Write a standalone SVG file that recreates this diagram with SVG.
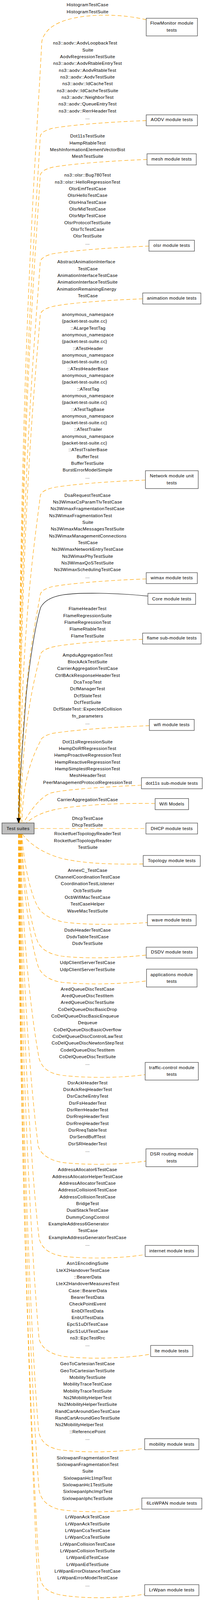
<svg xmlns="http://www.w3.org/2000/svg" width="555" height="4256" viewBox="0 0 555 4256">
<style>
text{font-family:"Liberation Sans",Arial,sans-serif;font-size:11.5px;letter-spacing:0.4px;fill:#000;text-anchor:middle}
.n rect{fill:#fff;stroke:#404040;stroke-width:1.2}
.root rect{fill:#bfbfbf;stroke:#404040;stroke-width:1.2}
.e{fill:none;stroke:#ffa500;stroke-width:1.2;stroke-dasharray:10,6}
.s{fill:none;stroke:#000;stroke-width:1.1}
</style>
<defs>
<marker id="arr" markerUnits="userSpaceOnUse" markerWidth="14" markerHeight="11" refX="13" refY="5" orient="auto"><path d="M0,0 L13,5 L0,10 z" fill="#000" stroke="#000" stroke-width="1"/></marker>
</defs>
<rect width="555" height="4256" fill="#fff"/>
<g id="connectors">
<g id="edge-flowmonitor">
<path class="e" d="M374,50.7 C300,32 170,32 125,75 C112,88 107,100 106.7,110 C91.7,410 49.7,909 46.7,2107"/>
<text x="224" y="16.3">HistogramTestCase</text>
<text x="224" y="33.6">HistogramTestSuite</text>
</g>
<g id="edge-aodv">
<path class="e" d="M374,308.7 C289,311.7 179,319.7 133,328.7 C112,334.7 105,340.7 103,348.7 C88,612.4 50.3,1052 47.3,2107"/>
<text x="217.8" y="114.3">ns3::aodv::AodvLoopbackTest</text>
<text x="224.7" y="131.6">Suite</text>
<text x="224" y="148.9">AodvRegressionTestSuite</text>
<text x="224" y="166.3">ns3::aodv::AodvRtableEntryTest</text>
<text x="224" y="183.6">ns3::aodv::AodvRtableTest</text>
<text x="224" y="200.9">ns3::aodv::AodvTestSuite</text>
<text x="224" y="218.2">ns3::aodv::IdCacheTest</text>
<text x="224" y="235.5">ns3::aodv::IdCacheTestSuite</text>
<text x="224" y="252.9">ns3::aodv::NeighborTest</text>
<text x="224" y="270.2">ns3::aodv::QueueEntryTest</text>
<text x="224" y="287.5">ns3::aodv::RerrHeaderTest</text>
<text x="224" y="304.8">...</text>
</g>
<g id="edge-mesh">
<path class="e" d="M376,408.3 C291,411.3 181,419.3 133,428.3 C112,434.3 105,440.3 103,448.3 C88,697.1 51,1111.8 48,2107"/>
<text x="224" y="352.3">Dot11sTestSuite</text>
<text x="224" y="369.6">HwmpRtableTest</text>
<text x="224" y="386.9">MeshInformationElementVectorBist</text>
<text x="224" y="404.3">MeshTestSuite</text>
</g>
<g id="edge-olsr">
<path class="e" d="M381,630 C296,633 186,641 133,650 C112,656 105,662 103,670 C88,885.6 51.7,1244.8 48.7,2107"/>
<text x="224" y="452.3">ns3::olsr::Bug780Test</text>
<text x="224" y="469.6">ns3::olsr::HelloRegressionTest</text>
<text x="224" y="486.9">OlsrEmfTestCase</text>
<text x="224" y="504.3">OlsrHelloTestCase</text>
<text x="224" y="521.6">OlsrHnaTestCase</text>
<text x="224" y="538.9">OlsrMidTestCase</text>
<text x="224" y="556.2">OlsrMprTestCase</text>
<text x="224" y="573.5">OlsrProtocolTestSuite</text>
<text x="224" y="590.9">OlsrTcTestCase</text>
<text x="224" y="608.2">OlsrTestSuite</text>
<text x="224" y="625.5">...</text>
</g>
<g id="edge-animation">
<path class="e" d="M365,765 C280,768 170,776 133,785 C112,791 105,797 103,805 C88,1000.3 52.4,1325.8 49.4,2107"/>
<text x="220.8" y="674.3">AbstractAnimationInterface</text>
<text x="224.7" y="691.6">TestCase</text>
<text x="224" y="708.9">AnimationInterfaceTestCase</text>
<text x="224" y="726.3">AnimationInterfaceTestSuite</text>
<text x="221.7" y="743.6">AnimationRemainingEnergy</text>
<text x="224.7" y="760.9">TestCase</text>
</g>
<g id="edge-network">
<path class="e" d="M372,1229 C287,1232 177,1240 133,1249 C112,1255 105,1261 103,1269 C88,1394.7 53,1604.2 50,2107"/>
<text x="224.8" y="809">anonymous_namespace</text>
<text x="216.3" y="826.3">{packet-test-suite.cc}</text>
<text x="225.3" y="843.6">::ALargeTestTag</text>
<text x="224.8" y="861">anonymous_namespace</text>
<text x="216.3" y="878.3">{packet-test-suite.cc}</text>
<text x="225.2" y="895.6">::ATestHeader</text>
<text x="224.8" y="912.9">anonymous_namespace</text>
<text x="216.3" y="930.2">{packet-test-suite.cc}</text>
<text x="225" y="947.6">::ATestHeaderBase</text>
<text x="224.8" y="964.9">anonymous_namespace</text>
<text x="216.3" y="982.2">{packet-test-suite.cc}</text>
<text x="225.5" y="999.5">::ATestTag</text>
<text x="224.8" y="1016.8">anonymous_namespace</text>
<text x="216.3" y="1034.2">{packet-test-suite.cc}</text>
<text x="224.7" y="1051.5">::ATestTagBase</text>
<text x="224.8" y="1068.8">anonymous_namespace</text>
<text x="216.3" y="1086.1">{packet-test-suite.cc}</text>
<text x="225.3" y="1103.4">::ATestTrailer</text>
<text x="224.8" y="1120.8">anonymous_namespace</text>
<text x="216.3" y="1138.1">{packet-test-suite.cc}</text>
<text x="225.2" y="1155.4">::ATestTrailerBase</text>
<text x="224" y="1172.7">BufferTest</text>
<text x="224" y="1190">BufferTestSuite</text>
<text x="224" y="1207.4">BurstErrorModelSimple</text>
<text x="224" y="1224.7">...</text>
</g>
<g id="edge-wimax">
<path class="e" d="M374,1482 C289,1485 179,1493 133,1502 C112,1508 105,1514 103,1522 C88,1609.8 54,1756 51,2107"/>
<text x="224" y="1271.7">DsaRequestTestCase</text>
<text x="224" y="1289">Ns3WimaxCsParamTlvTestCase</text>
<text x="224" y="1306.3">Ns3WimaxFragmentationTestCase</text>
<text x="206.2" y="1323.7">Ns3WimaxFragmentationTest</text>
<text x="224.7" y="1341">Suite</text>
<text x="224" y="1358.3">Ns3WimaxMacMessagesTestSuite</text>
<text x="224.5" y="1375.6">Ns3WimaxManagementConnections</text>
<text x="224.7" y="1392.9">TestCase</text>
<text x="224" y="1410.3">Ns3WimaxNetworkEntryTestCase</text>
<text x="224" y="1427.6">Ns3WimaxPhyTestSuite</text>
<text x="224" y="1444.9">Ns3WimaxQoSTestSuite</text>
<text x="224" y="1462.2">Ns3WimaxSchedulingTestCase</text>
<text x="224" y="1479.5">...</text>
</g>
<g id="edge-core">
<path class="s" marker-end="url(#arr)" d="M378.3,1526 C330,1521 220,1514 160,1523 C130,1528 112,1540 104,1555 C90,1600 75,1700 67,1780 C60,1880 50,1990 47.3,2106.7"/>
</g>
<g id="edge-flame">
<path class="e" d="M364.7,1636.7 C279.7,1639.7 169.7,1647.7 133,1656.7 C112,1662.7 105,1668.7 103,1676.7 C88,1741.2 56,1848.8 53,2107"/>
<text x="224" y="1562.3">FlameHeaderTest</text>
<text x="224" y="1579.6">FlameRegressionSuite</text>
<text x="224" y="1596.9">FlameRegressionTest</text>
<text x="224" y="1614.3">FlameRtableTest</text>
<text x="224" y="1631.6">FlameTestSuite</text>
</g>
<g id="edge-wifi">
<path class="e" d="M382,1857.7 C297,1860.7 187,1868.7 133,1877.7 C112,1883.7 105,1889.7 103,1897.7 C88,1929.1 59,1981.4 56,2107"/>
<text x="224" y="1680.7">AmpduAggregationTest</text>
<text x="224" y="1698">BlockAckTestSuite</text>
<text x="224" y="1715.3">CarrierAggregationTestCase</text>
<text x="224" y="1732.7">CtrlBAckResponseHeaderTest</text>
<text x="224" y="1750">DcaTxopTest</text>
<text x="224" y="1767.3">DcfManagerTest</text>
<text x="224" y="1784.6">DcfStateTest</text>
<text x="224" y="1801.9">DcfTestSuite</text>
<text x="224" y="1819.3">DcfStateTest::ExpectedCollision</text>
<text x="224" y="1836.6">fn_parameters</text>
<text x="224" y="1853.9">...</text>
</g>
<g id="edge-dot11s">
<path class="e" d="M361.7,2010 C280,2014 170,2020 130,2030 C105,2040 80,2070 60,2107"/>
<text x="224" y="1902.7">Dot11sRegressionSuite</text>
<text x="224" y="1920">HwmpDoRfRegressionTest</text>
<text x="224" y="1937.3">HwmpProactiveRegressionTest</text>
<text x="224" y="1954.7">HwmpReactiveRegressionTest</text>
<text x="224" y="1972">HwmpSimplestRegressionTest</text>
<text x="224" y="1989.3">MeshHeaderTest</text>
<text x="224" y="2006.6">PeerManagementProtocolRegressionTest</text>
</g>
<g id="edge-wifimodels">
<path class="e" d="M396.7,2057 C300,2055 180,2062 130,2075 C100,2083 80,2095 67,2107"/>
<text x="224" y="2050.7">CarrierAggregationTestCase</text>
</g>
<g id="edge-dhcp">
<path class="e" d="M87.3,2121 L373.3,2121"/>
<text x="224" y="2098.7">DhcpTestCase</text>
<text x="224" y="2116">DhcpTestSuite</text>
</g>
<g id="edge-topology">
<path class="e" d="M57,2135 C75,2160 110,2185 160,2198 C220,2212 300,2213 366.3,2211.7"/>
<text x="224" y="2138.3">RocketfuelTopologyReaderTest</text>
<text x="211.8" y="2155.6">RocketfuelTopologyReader</text>
<text x="224.7" y="2172.9">TestSuite</text>
</g>
<g id="edge-wave">
<path class="e" d="M56,2135 C60,2200 75,2280 95,2318 C105,2338 125,2352 160,2360 C230,2370 320,2366 377,2361.7"/>
<text x="224" y="2231.7">AnnexC_TestCase</text>
<text x="224" y="2249">ChannelCoordinationTestCase</text>
<text x="224" y="2266.3">CoordinationTestListener</text>
<text x="224" y="2283.7">OcbTestSuite</text>
<text x="224" y="2301">OcbWifiMacTestCase</text>
<text x="224" y="2318.3">TestCaseHelper</text>
<text x="224" y="2335.6">WaveMacTestSuite</text>
</g>
<g id="edge-dsdv">
<path class="e" d="M55,2135 C58,2250 80,2370 96,2410 C105,2430 125,2443 160,2448 C220,2455 310,2452 374,2445"/>
<text x="224" y="2384.7">DsdvHeaderTestCase</text>
<text x="224" y="2402">DsdvTableTestCase</text>
<text x="224" y="2419.3">DsdvTestSuite</text>
</g>
<g id="edge-applications">
<path class="e" d="M54,2135 C57,2280 80,2420 98,2475 C106,2495 125,2510 160,2515 C220,2521 310,2520 374.7,2511"/>
<text x="224" y="2468.3">UdpClientServerTestCase</text>
<text x="224" y="2485.6">UdpClientServerTestSuite</text>
</g>
<g id="edge-trafficcontrol">
<path class="e" d="M53,2135 C56,2400 80,2600 100,2710 C108,2735 125,2748 160,2753 C220,2760 310,2760 371.3,2751"/>
<text x="224" y="2535.7">AredQueueDiscTestCase</text>
<text x="224" y="2553">AredQueueDiscTestItem</text>
<text x="224" y="2570.3">AredQueueDiscTestSuite</text>
<text x="224" y="2587.7">CoDelQueueDiscBasicDrop</text>
<text x="217.8" y="2605">CoDelQueueDiscBasicEnqueue</text>
<text x="224.3" y="2622.3">Dequeue</text>
<text x="224" y="2639.6">CoDelQueueDiscBasicOverflow</text>
<text x="224" y="2656.9">CoDelQueueDiscControlLawTest</text>
<text x="224" y="2674.3">CoDelQueueDiscNewtonStepTest</text>
<text x="224" y="2691.6">CodelQueueDiscTestItem</text>
<text x="224" y="2708.9">CoDelQueueDiscTestSuite</text>
<text x="224" y="2726.2">...</text>
</g>
<g id="edge-dsr">
<path class="e" d="M52,2135 C55,2500 80,2800 98,2935 C105,2955 125,2970 160,2976 C220,2983 310,2982 373.3,2972.3"/>
<text x="224" y="2775.7">DsrAckHeaderTest</text>
<text x="224" y="2793">DsrAckReqHeaderTest</text>
<text x="224" y="2810.3">DsrCacheEntryTest</text>
<text x="224" y="2827.7">DsrFsHeaderTest</text>
<text x="224" y="2845">DsrRerrHeaderTest</text>
<text x="224" y="2862.3">DsrRrepHeaderTest</text>
<text x="224" y="2879.6">DsrRreqHeaderTest</text>
<text x="224" y="2896.9">DsrRreqTableTest</text>
<text x="224" y="2914.3">DsrSendBuffTest</text>
<text x="224" y="2931.6">DsrSRHeaderTest</text>
<text x="224" y="2948.9">...</text>
</g>
<g id="edge-internet">
<path class="e" d="M51,2135 C54,2600 80,3000 100,3170 C106,3195 125,3210 160,3216 C220,3223 310,3222 371.3,3211.7"/>
<text x="224" y="2998.3">AddressAllocator6TestCase</text>
<text x="224" y="3015.6">AddressAllocatorHelperTestCase</text>
<text x="224" y="3032.9">AddressAllocatorTestCase</text>
<text x="224" y="3050.3">AddressCollision6TestCase</text>
<text x="224" y="3067.6">AddressCollisionTestCase</text>
<text x="224" y="3084.9">BridgeTest</text>
<text x="224" y="3102.2">DualStackTestCase</text>
<text x="224" y="3119.5">DummyCongControl</text>
<text x="201.3" y="3136.9">ExampleAddress6Generator</text>
<text x="224.7" y="3154.2">TestCase</text>
<text x="224" y="3171.5">ExampleAddressGeneratorTestCase</text>
<text x="224" y="3188.8">...</text>
</g>
<g id="edge-lte">
<path class="e" d="M50,2135 C53,2700 80,3200 100,3428 C106,3450 125,3465 160,3472 C220,3480 320,3478 385.3,3466.7"/>
<text x="224" y="3238.3">Asn1EncodingSuite</text>
<text x="212.5" y="3255.6">LteX2HandoverTestCase</text>
<text x="224.3" y="3272.9">::BearerData</text>
<text x="224.3" y="3290.3">LteX2HandoverMeasuresTest</text>
<text x="224.7" y="3307.6">Case::BearerData</text>
<text x="224" y="3324.9">BearerTestData</text>
<text x="224" y="3342.2">CheckPointEvent</text>
<text x="224" y="3359.5">EnbDlTestData</text>
<text x="224" y="3376.9">EnbUlTestData</text>
<text x="224" y="3394.2">EpcS1uDlTestCase</text>
<text x="224" y="3411.5">EpcS1uUlTestCase</text>
<text x="224" y="3428.8">ns3::EpcTestRrc</text>
<text x="224" y="3446.1">...</text>
</g>
<g id="edge-mobility">
<path class="e" d="M49,2135 C52,2800 80,3450 99,3665 C104,3690 120,3705 150,3711 C210,3720 310,3718 370,3707.3"/>
<text x="224" y="3495.3">GeoToCartesianTestCase</text>
<text x="224" y="3512.6">GeoToCartesianTestSuite</text>
<text x="224" y="3529.9">MobilityTestSuite</text>
<text x="224" y="3547.3">MobilityTraceTestCase</text>
<text x="224" y="3564.6">MobilityTraceTestSuite</text>
<text x="224" y="3581.9">Ns2MobilityHelperTest</text>
<text x="224" y="3599.2">Ns2MobilityHelperTestSuite</text>
<text x="224" y="3616.5">RandCartAroundGeoTestCase</text>
<text x="224" y="3633.9">RandCartAroundGeoTestSuite</text>
<text x="203" y="3651.2">Ns2MobilityHelperTest</text>
<text x="224" y="3668.5">::ReferencePoint</text>
<text x="224" y="3685.8">...</text>
</g>
<g id="edge-6lowpan">
<path class="e" d="M48,2135 C51,2900 82,3600 100,3815 C105,3840 120,3855 150,3864 C210,3873 300,3872 362.7,3861.7"/>
<text x="224" y="3735.7">SixlowpanFragmentationTest</text>
<text x="224" y="3753">SixlowpanFragmentationTest</text>
<text x="224.7" y="3770.3">Suite</text>
<text x="224" y="3787.7">SixlowpanHc1ImplTest</text>
<text x="224" y="3805">SixlowpanHc1TestSuite</text>
<text x="224" y="3822.3">SixlowpanIphcImplTest</text>
<text x="224" y="3839.6">SixlowpanIphcTestSuite</text>
</g>
<g id="edge-lrwpan">
<path class="e" d="M47.5,2135 C50,3000 85,3800 101,4030 C104,4060 118,4074 150,4082 C210,4094 310,4092 370,4081"/>
<text x="224" y="3887.3">LrWpanAckTestCase</text>
<text x="224" y="3904.6">LrWpanAckTestSuite</text>
<text x="224" y="3921.9">LrWpanCcaTestCase</text>
<text x="224" y="3939.3">LrWpanCcaTestSuite</text>
<text x="224" y="3956.6">LrWpanCollisionTestCase</text>
<text x="224" y="3973.9">LrWpanCollisionTestSuite</text>
<text x="224" y="3991.2">LrWpanEdTestCase</text>
<text x="224" y="4008.5">LrWpanEdTestSuite</text>
<text x="224" y="4025.9">LrWpanErrorDistanceTestCase</text>
<text x="224" y="4043.2">LrWpanErrorModelTestCase</text>
<text x="224" y="4060.5">...</text>
</g>
<g id="edge-uan">
<path class="e" d="M47,2135 C49,2936 82,3737 100,4138 C104,4175 112,4205 140,4225 C200,4255 300,4255 400,4219.3"/>
<text x="223.5" y="4108.3">AcousticModemEnergyDepletion</text>
<text x="224.7" y="4125.6">TestCase</text>
<text x="224" y="4142.9">AcousticModemEnergyTestCase</text>
<text x="224" y="4160.3">UanEnergyModelTestSuite</text>
<text x="224" y="4177.6">UanTest</text>
<text x="224" y="4194.9">UanTestSuite</text>
</g>
</g>
<g id="node-flowmonitor" class="n"><rect x="374" y="46.7" width="131" height="45.3"/><text x="439.5" y="63.3">FlowMonitor module</text><text x="439.5" y="80.6">tests</text></g>
<g id="node-aodv" class="n"><rect x="374" y="294" width="131" height="28"/><text x="439.5" y="310">AODV module tests</text></g>
<g id="node-mesh" class="n"><rect x="376" y="393.7" width="126" height="28.6"/><text x="439" y="410.7">mesh module tests</text></g>
<g id="node-olsr" class="n"><rect x="381" y="615" width="116.3" height="28"/><text x="439.2" y="632.3">olsr module tests</text></g>
<g id="node-animation" class="n"><rect x="365" y="750" width="148.7" height="28.3"/><text x="439.3" y="766.7">animation module tests</text></g>
<g id="node-network" class="n"><rect x="372" y="1205" width="135" height="45.7"/><text x="439.5" y="1222.3">Network module unit</text><text x="439.5" y="1239.6">tests</text></g>
<g id="node-wimax" class="n"><rect x="374" y="1466" width="130.7" height="28"/><text x="439.3" y="1482.7">wimax module tests</text></g>
<g id="node-core" class="n"><rect x="378.3" y="1519" width="122" height="28.3"/><text x="439.3" y="1536.7">Core module tests</text></g>
<g id="node-flame" class="n"><rect x="364.7" y="1620.7" width="149.6" height="28"/><text x="439.5" y="1637.3">flame sub-module tests</text></g>
<g id="node-wifi" class="n"><rect x="382" y="1841.7" width="114.7" height="28.3"/><text x="439.3" y="1858.7">wifi module tests</text></g>
<g id="node-dot11s" class="n"><rect x="361.7" y="1991" width="155.6" height="28.3"/><text x="439.5" y="2008.7">dot11s sub-module tests</text></g>
<g id="node-wifimodels" class="n"><rect x="396.7" y="2044.3" width="85.6" height="28.4"/><text x="439.5" y="2061.7">Wifi Models</text></g>
<g id="node-testsuites" class="root"><rect x="5" y="2106.7" width="82.3" height="28.3"/><text x="46.2" y="2124.7">Test suites</text></g>
<g id="node-dhcp" class="n"><rect x="373.3" y="2107" width="132" height="28"/><text x="439.3" y="2124.7">DHCP module tests</text></g>
<g id="node-topology" class="n"><rect x="366.3" y="2190" width="146" height="28"/><text x="439.3" y="2206.7">Topology module tests</text></g>
<g id="node-wave" class="n"><rect x="377" y="2341.7" width="124.7" height="28"/><text x="439.3" y="2359">wave module tests</text></g>
<g id="node-dsdv" class="n"><rect x="374" y="2424.7" width="131" height="28"/><text x="439.5" y="2441.3">DSDV module tests</text></g>
<g id="node-applications" class="n"><rect x="374.7" y="2481" width="129.3" height="45.7"/><text x="439.3" y="2498.7">applications module</text><text x="439.3" y="2516">tests</text></g>
<g id="node-trafficcontrol" class="n"><rect x="371.3" y="2719.7" width="136" height="45.3"/><text x="439.3" y="2737">traffic-control module</text><text x="439.3" y="2754.3">tests</text></g>
<g id="node-dsr" class="n"><rect x="373.3" y="2941" width="132.4" height="45.7"/><text x="439.5" y="2958.3">DSR routing module</text><text x="439.5" y="2975.6">tests</text></g>
<g id="node-internet" class="n"><rect x="371.3" y="3188.3" width="136" height="28.4"/><text x="439.3" y="3205.7">internet module tests</text></g>
<g id="node-lte" class="n"><rect x="385.3" y="3444.3" width="108" height="28.4"/><text x="439.3" y="3461.7">lte module tests</text></g>
<g id="node-mobility" class="n"><rect x="370" y="3683" width="138.7" height="28.3"/><text x="439.3" y="3700.7">mobility module tests</text></g>
<g id="node-6lowpan" class="n"><rect x="362.7" y="3835" width="153.6" height="28.3"/><text x="439.5" y="3852.3">6LoWPAN module tests</text></g>
<g id="node-lrwpan" class="n"><rect x="370" y="4056.7" width="138.7" height="28.3"/><text x="439.3" y="4073.7">LrWpan module tests</text></g>
<g id="node-uan" class="n"><rect x="381" y="4191" width="116.3" height="28.3"/><text x="439.2" y="4208.3">uan module tests</text></g>
</svg>
